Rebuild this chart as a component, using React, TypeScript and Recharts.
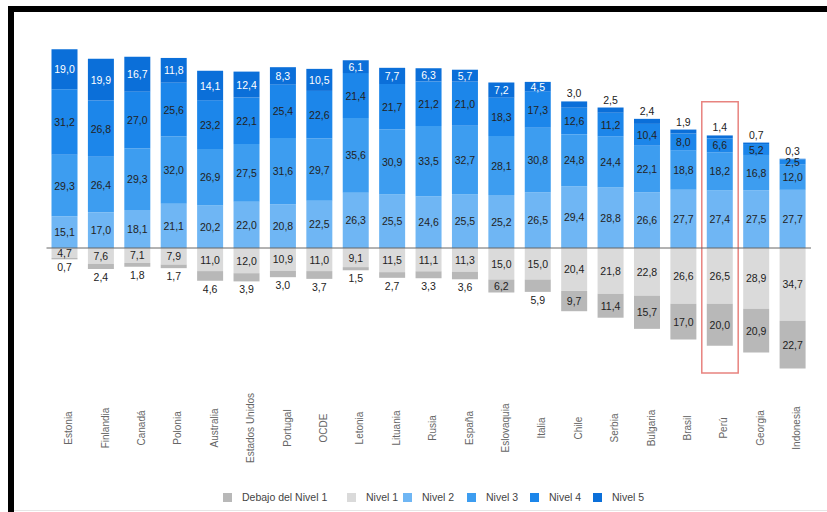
import React from 'react';
import { BarChart, Bar, XAxis, YAxis, ReferenceLine, ReferenceArea, LabelList } from 'recharts';

const paises = [
  'Estonia', 'Finlandia', 'Canadá', 'Polonia', 'Australia', 'Estados Unidos', 'Portugal',
  'OCDE', 'Letonia', 'Lituania', 'Rusia', 'España', 'Eslovaquia', 'Italia', 'Chile',
  'Serbia', 'Bulgaria', 'Brasil', 'Perú', 'Georgia', 'Indonesia',
];

const debajoNivel1 = [0.7, 2.4, 1.8, 1.7, 4.6, 3.9, 3.0, 3.7, 1.5, 2.7, 3.3, 3.6, 6.2, 5.9, 9.7, 11.4, 15.7, 17.0, 20.0, 20.9, 22.7];
const nivel1 = [4.7, 7.6, 7.1, 7.9, 11.0, 12.0, 10.9, 11.0, 9.1, 11.5, 11.1, 11.3, 15.0, 15.0, 20.4, 21.8, 22.8, 26.6, 26.5, 28.9, 34.7];
const nivel2 = [15.1, 17.0, 18.1, 21.1, 20.2, 22.0, 20.8, 22.5, 26.3, 25.5, 24.6, 25.5, 25.2, 26.5, 29.4, 28.8, 26.6, 27.7, 27.4, 27.5, 27.7];
const nivel3 = [29.3, 26.4, 29.3, 32.0, 26.9, 27.5, 31.6, 29.7, 35.6, 30.9, 33.5, 32.7, 28.1, 30.8, 24.8, 24.4, 22.1, 18.8, 18.2, 16.8, 12.0];
const nivel4 = [31.2, 26.8, 27.0, 25.6, 23.2, 22.1, 25.4, 22.6, 21.4, 21.7, 21.2, 21.0, 18.3, 17.3, 12.6, 11.2, 10.4, 8.0, 6.6, 5.2, 2.5];
const nivel5 = [19.0, 19.9, 16.7, 11.8, 14.1, 12.4, 8.3, 10.5, 6.1, 7.7, 6.3, 5.7, 7.2, 4.5, 3.0, 2.5, 2.4, 1.9, 1.4, 0.7, 0.3];

const destacado = 'Perú';

const colores = {
  debajo: '#b8b8b8',
  n1: '#dadada',
  n2: '#6fb6f4',
  n3: '#3d9df0',
  n4: '#1c86ea',
  n5: '#0b6fd9',
};

const leyenda = [
  { nombre: 'Debajo del Nivel 1', color: colores.debajo, x: 223 },
  { nombre: 'Nivel 1', color: colores.n1, x: 347 },
  { nombre: 'Nivel 2', color: colores.n2, x: 403 },
  { nombre: 'Nivel 3', color: colores.n3, x: 467 },
  { nombre: 'Nivel 4', color: colores.n4, x: 530 },
  { nombre: 'Nivel 5', color: colores.n5, x: 593 },
];

const data = paises.map((pais, i) => ({
  pais,
  n1: -nivel1[i],
  debajo: -debajoNivel1[i],
  n2: nivel2[i],
  n3: nivel3[i],
  n4: nivel4[i],
  n5: nivel5[i],
}));

const fmt = (v: number) => v.toFixed(1).replace('.', ',');

// mode: 'top' puts small values above the bar, 'bottom' puts them below
const makeLabel = (values: number[], mode: 'top' | 'bottom' | 'mid') => (props: any) => {
  const { x, y, width, height, index } = props;
  const v = values[index];
  const top = Math.min(Number(y), Number(y) + Number(height));
  const bot = Math.max(Number(y), Number(y) + Number(height));
  const cx = Number(x) + Number(width) / 2;
  let ty = (top + bot) / 2 + 4;
  let fill = '#222';
  if (mode === 'top') {
    if (v < 4) ty = top - 4;
    else fill = '#fff';
  }
  if (mode === 'bottom' && v < 6) ty = bot + 12;
  return (
    <text x={cx} y={ty} textAnchor="middle" fontSize={10.5} fill={fill}>
      {fmt(v)}
    </text>
  );
};

const PaisTick = (props: any) => {
  const { x, payload } = props;
  return (
    <text
      transform={`translate(${x + 4},428) rotate(-90)`}
      textAnchor="middle"
      dominantBaseline="central"
      fontSize={10}
      fill="#666"
    >
      {payload.value}
    </text>
  );
};

export default function App() {
  return (
    <div
      style={{
        position: 'absolute',
        left: 0,
        top: 0,
        width: 827,
        height: 512,
        background: '#fff',
        fontFamily: '"Liberation Sans", Arial, sans-serif',
        overflow: 'hidden',
      }}
    >
      {/* black frame */}
      <div style={{ position: 'absolute', left: 8, top: 6, width: 819, height: 6, background: '#000' }} />
      <div style={{ position: 'absolute', left: 8, top: 6, width: 6, height: 506, background: '#000' }} />
      <div style={{ position: 'absolute', left: 14, top: 510, width: 813, height: 1, background: '#e6e6e6' }} />

      <div style={{ position: 'absolute', left: 0, top: 0 }}>
        <BarChart
          width={827}
          height={512}
          data={data}
          stackOffset="sign"
          margin={{ top: 38, right: 16, left: 46.5, bottom: 37.5 }}
        >
          <XAxis dataKey="pais" height={90} axisLine={false} tickLine={false} tick={<PaisTick />} interval={0} />
          <YAxis hide domain={[-65, 100]} />
          <Bar dataKey="n1" stackId="a" fill={colores.n1} barSize={26} isAnimationActive={false}>
            <LabelList content={makeLabel(nivel1, 'mid')} />
          </Bar>
          <Bar dataKey="debajo" stackId="a" fill={colores.debajo} barSize={26} isAnimationActive={false}>
            <LabelList content={makeLabel(debajoNivel1, 'bottom')} />
          </Bar>
          <Bar dataKey="n2" stackId="a" fill={colores.n2} barSize={26} isAnimationActive={false}>
            <LabelList content={makeLabel(nivel2, 'mid')} />
          </Bar>
          <Bar dataKey="n3" stackId="a" fill={colores.n3} barSize={26} isAnimationActive={false}>
            <LabelList content={makeLabel(nivel3, 'mid')} />
          </Bar>
          <Bar dataKey="n4" stackId="a" fill={colores.n4} barSize={26} isAnimationActive={false}>
            <LabelList content={makeLabel(nivel4, 'mid')} />
          </Bar>
          <Bar dataKey="n5" stackId="a" fill={colores.n5} barSize={26} isAnimationActive={false}>
            <LabelList content={makeLabel(nivel5, 'top')} />
          </Bar>
          <ReferenceLine y={0} stroke="#666" strokeWidth={1} />
          <ReferenceArea
            x1={destacado}
            x2={destacado}
            y1={-59.5}
            y2={69.7}
            fill="none"
            stroke="#e8837f"
            strokeWidth={1.5}
          />
        </BarChart>
      </div>

      {/* legend */}
      {leyenda.map((l) => (
        <div
          key={l.nombre}
          style={{
            position: 'absolute',
            left: l.x,
            top: 491,
            display: 'flex',
            alignItems: 'center',
            fontSize: 10.5,
            color: '#444',
            whiteSpace: 'nowrap',
          }}
        >
          <span style={{ width: 9, height: 9, background: l.color, display: 'inline-block', marginRight: 10 }} />
          <span>{l.nombre}</span>
        </div>
      ))}
    </div>
  );
}
